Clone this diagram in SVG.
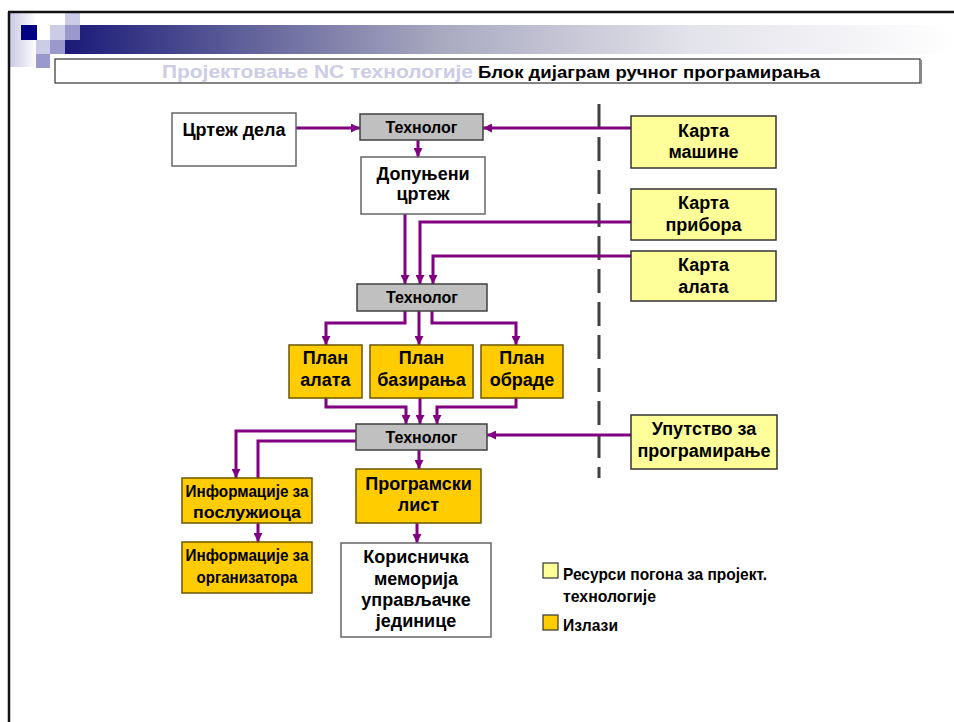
<svg xmlns="http://www.w3.org/2000/svg" width="954" height="722" viewBox="0 0 954 722">
<defs>
<linearGradient id="bar" x1="65" y1="0" x2="954" y2="0" gradientUnits="userSpaceOnUse">
<stop offset="0" stop-color="#1A1A78"/>
<stop offset="0.2" stop-color="#60609A"/>
<stop offset="0.42" stop-color="#A8A8C0"/>
<stop offset="0.7" stop-color="#E2E2EA"/>
<stop offset="1" stop-color="#FFFFFF"/>
</linearGradient>
<linearGradient id="side" x1="0" y1="0" x2="1" y2="0">
<stop offset="0" stop-color="#C8C8E2"/>
<stop offset="1" stop-color="#FFFFFF"/>
</linearGradient>
<marker id="ah" markerUnits="userSpaceOnUse" markerWidth="9" markerHeight="9" refX="9" refY="4.5" orient="auto">
<path d="M0,0 L9,4.5 L0,9 z" fill="#800080"/>
</marker>
<style>
text{font-family:"Liberation Sans",Arial,sans-serif;font-weight:bold;fill:#000;text-anchor:middle}
.b{stroke-width:1.5}
.w{fill:#fff;stroke:#666}
.g{fill:#C0C0C0;stroke:#404040}
.y{fill:#FFFF99;stroke:#333}
.o{fill:#FFCC00;stroke:#6B5500}
.t18{font-size:18px}
.t15{font-size:16px}
.c{stroke:#800080;stroke-width:3;fill:none}
.a{marker-end:url(#ah)}
.leg{font-size:17px;text-anchor:start}
</style>
</defs>
<rect width="954" height="722" fill="#fff"/>
<g id="decoration">
<rect x="9" y="13" width="28" height="54" fill="url(#side)"/>
<rect x="65" y="25" width="889" height="29" fill="url(#bar)"/>
<rect x="65" y="13" width="15" height="12" fill="#CCCCE6"/>
<rect x="21" y="25" width="16" height="15" fill="#000080"/>
<rect x="50" y="25" width="15" height="15" fill="#CCCCE6"/>
<rect x="65" y="25" width="15" height="15" fill="#9999CC"/>
<rect x="36" y="40" width="14" height="14" fill="#CCCCE6"/>
<rect x="50" y="40" width="15" height="14" fill="#9999CC"/>
<rect x="36" y="54" width="14" height="14" fill="#9999CC"/>
<path d="M8,12 H954 M9,12 V722" stroke="#111" stroke-width="2.5" fill="none"/>
</g>
<g id="title">
<rect x="55" y="59" width="865" height="24" fill="#fff" stroke="#333" stroke-width="1.2"/>
<line x1="921.5" y1="60" x2="921.5" y2="84" stroke="#888" stroke-width="1"/>
<text x="162" y="78" style="font-size:19px;fill:#CCCCE6;text-anchor:start" textLength="311" lengthAdjust="spacingAndGlyphs">Пројектовање NC технологије</text>
<text x="478" y="78" style="font-size:17px;text-anchor:start" textLength="342" lengthAdjust="spacingAndGlyphs">Блок дијаграм ручног програмирања</text>
</g>
<line id="divider" x1="599" y1="104" x2="599" y2="478" stroke="#404040" stroke-width="3" stroke-dasharray="24 9"/>
<g id="connectors">
<path class="c a" d="M296,128 H360"/>
<path class="c a" d="M631,128 H483"/>
<path class="c a" d="M418,140 V157"/>
<path class="c a" d="M405,214 V284"/>
<path class="c a" d="M631,222 H420 V284"/>
<path class="c a" d="M631,256 H433 V284"/>
<path class="c a" d="M405,311 V323 H326 V345"/>
<path class="c a" d="M419,311 V345"/>
<path class="c a" d="M432,311 V323 H516 V345"/>
<path class="c a" d="M326,398 V407 H406 V424"/>
<path class="c a" d="M420,398 V424"/>
<path class="c a" d="M516,398 V407 H437 V424"/>
<path class="c a" d="M631,435 H487"/>
<path class="c a" d="M356,431 H236 V478"/>
<path class="c" d="M356,441 H258 V478"/>
<path class="c a" d="M258,523 V542"/>
<path class="c a" d="M419,450 V469"/>
<path class="c a" d="M417,523 V543"/>
</g>
<g id="crtez-dela">
<rect class="w b" x="172" y="113" width="124" height="53"/>
<text class="t18" x="234" y="136">Цртеж дела</text>
</g>
<g id="tehnolog-1">
<rect class="g b" x="360" y="114" width="123" height="26"/>
<text class="t15" x="421.5" y="132.5">Технолог</text>
</g>
<g id="dopunjeni-crtez">
<rect class="w b" x="361" y="157" width="124" height="57"/>
<text class="t18" x="423" y="180">Допуњени</text>
<text class="t18" x="423" y="200">цртеж</text>
</g>
<g id="karta-masine">
<rect class="y b" x="631" y="116" width="145" height="52"/>
<text class="t18" x="703.5" y="137">Карта</text>
<text class="t18" x="703.5" y="158">машине</text>
</g>
<g id="karta-pribora">
<rect class="y b" x="631" y="189" width="145" height="51"/>
<text class="t18" x="703.5" y="209">Карта</text>
<text class="t18" x="703.5" y="231">прибора</text>
</g>
<g id="karta-alata">
<rect class="y b" x="631" y="251" width="145" height="50"/>
<text class="t18" x="703.5" y="271">Карта</text>
<text class="t18" x="703.5" y="293">алата</text>
</g>
<g id="tehnolog-2">
<rect class="g b" x="357" y="284" width="130" height="27"/>
<text class="t15" x="422" y="302.5">Технолог</text>
</g>
<g id="plan-alata">
<rect class="o b" x="289" y="345" width="73" height="53"/>
<text class="t18" x="325.5" y="364">План</text>
<text class="t18" x="325.5" y="386">алата</text>
</g>
<g id="plan-baziranja">
<rect class="o b" x="370" y="345" width="103" height="53"/>
<text class="t18" x="421.5" y="364">План</text>
<text class="t18" x="421.5" y="386">базирања</text>
</g>
<g id="plan-obrade">
<rect class="o b" x="481" y="345" width="82" height="53"/>
<text class="t18" x="522" y="364">План</text>
<text class="t18" x="522" y="386">обраде</text>
</g>
<g id="tehnolog-3">
<rect class="g b" x="356" y="424" width="131" height="26"/>
<text class="t15" x="421.5" y="442.5">Технолог</text>
</g>
<g id="uputstvo">
<rect class="y b" x="631" y="415" width="146" height="54"/>
<text class="t18" x="704" y="435">Упутство за</text>
<text class="t18" x="704" y="457">програмирање</text>
</g>
<g id="info-posluzioca">
<rect class="o b" x="182" y="478" width="130" height="45"/>
<text x="247" y="497" style="font-size:17px" textLength="123" lengthAdjust="spacingAndGlyphs">Информације за</text>
<text x="247" y="518" style="font-size:17px" textLength="108" lengthAdjust="spacingAndGlyphs">послужиоца</text>
</g>
<g id="info-organizatora">
<rect class="o b" x="182" y="542" width="130" height="51"/>
<text x="247" y="561" style="font-size:17px" textLength="123" lengthAdjust="spacingAndGlyphs">Информације за</text>
<text x="247" y="583" style="font-size:17px" textLength="101" lengthAdjust="spacingAndGlyphs">организатора</text>
</g>
<g id="programski-list">
<rect class="o b" x="356" y="469" width="125" height="54"/>
<text class="t18" x="418.5" y="490">Програмски</text>
<text class="t18" x="418.5" y="511">лист</text>
</g>
<g id="korisnicka-memorija">
<rect class="w b" x="341" y="543" width="150" height="94"/>
<text class="t18" x="416" y="563">Корисничка</text>
<text class="t18" x="416" y="585">меморија</text>
<text class="t18" x="416" y="606">управљачке</text>
<text class="t18" x="416" y="627">јединице</text>
</g>
<g id="legend">
<rect x="543" y="563" width="15" height="15" fill="#FFFF99" stroke="#333" stroke-width="1.2"/>
<text class="leg" x="563" y="580" textLength="204" lengthAdjust="spacingAndGlyphs">Ресурси погона за пројект.</text>
<text class="leg" x="563" y="602" textLength="93" lengthAdjust="spacingAndGlyphs">технологије</text>
<rect x="543" y="615" width="15" height="15" fill="#FFCC00" stroke="#333" stroke-width="1.2"/>
<text class="leg" x="563" y="631" textLength="55" lengthAdjust="spacingAndGlyphs">Излази</text>
</g>
</svg>
